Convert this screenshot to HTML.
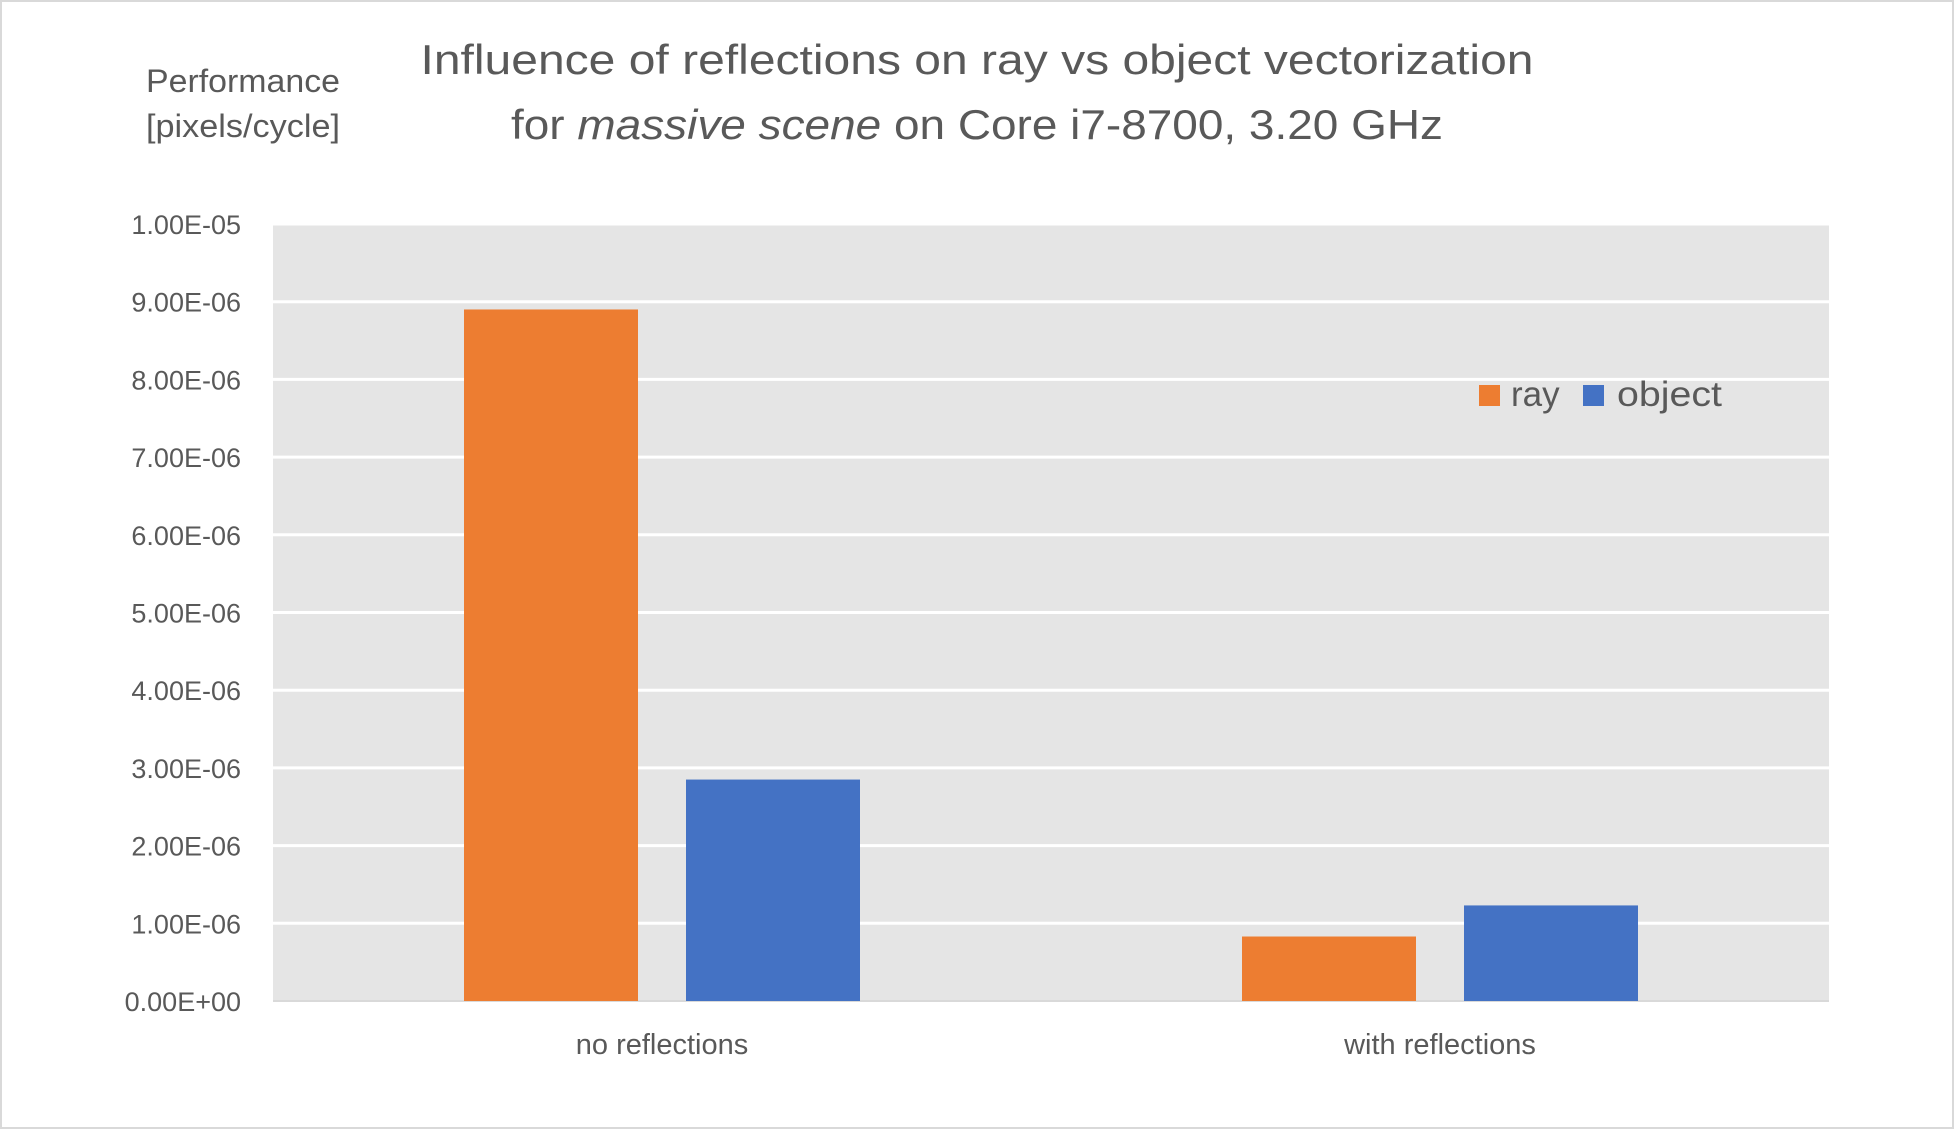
<!DOCTYPE html>
<html><head><meta charset="utf-8"><style>
html,body{margin:0;padding:0;background:#fff;}
svg{display:block;font-family:"Liberation Sans",sans-serif;}
</style></head><body>
<svg id="chart" width="1955" height="1130">
<rect x="1" y="1" width="1952" height="1127" fill="#fff" stroke="#d9d9d9" stroke-width="2"/>
<text x="977" y="74" font-size="42" fill="#595959" text-anchor="middle" textLength="1113" lengthAdjust="spacingAndGlyphs">Influence of reflections on ray vs object vectorization</text>
<text x="977" y="139" font-size="42" fill="#595959" text-anchor="middle" textLength="932" lengthAdjust="spacingAndGlyphs">for <tspan font-style="italic">massive scene</tspan> on Core i7-8700, 3.20 GHz</text>
<text x="243" y="92" font-size="32" fill="#595959" text-anchor="middle" textLength="194" lengthAdjust="spacingAndGlyphs">Performance</text>
<text x="243" y="137" font-size="32" fill="#595959" text-anchor="middle" textLength="194" lengthAdjust="spacingAndGlyphs">[pixels/cycle]</text>
<rect x="273" y="224" width="1556" height="777" fill="#e5e5e5"/>
<g id="grid"></g><g id="bars"></g><g id="labels"></g>
<rect x="1479" y="385" width="21" height="21" fill="#ed7d31"/>
<text x="1511" y="406" font-size="35" fill="#595959">ray</text>
<rect x="1583" y="385" width="21" height="21" fill="#4472c4"/>
<text x="1617" y="406" font-size="35" fill="#595959" textLength="105" lengthAdjust="spacingAndGlyphs">object</text>
</svg>
<script>
const categories = ["no reflections", "with reflections"];
const rayValues = [8.9e-6, 0.83e-6];
const objectValues = [2.85e-6, 1.23e-6];
const tickValues = [0, 1e-6, 2e-6, 3e-6, 4e-6, 5e-6, 6e-6, 7e-6, 8e-6, 9e-6, 1e-5];
const tickLabels = ["0.00E+00","1.00E-06","2.00E-06","3.00E-06","4.00E-06","5.00E-06","6.00E-06","7.00E-06","8.00E-06","9.00E-06","1.00E-05"];
const NS = "http://www.w3.org/2000/svg";
const L = 273, R = 1829, T = 224, B = 1001, yMax = 1e-5;
const y = v => B - (v / yMax) * (B - T);
const bandW = (R - L) / categories.length;
const xc = i => L + bandW * (i + 0.5);
const barW = 174, gap = 48;
function mk(tag, attrs, parent) { const e = document.createElementNS(NS, tag); for (const k in attrs) e.setAttribute(k, attrs[k]); parent.appendChild(e); return e; }
const grid = document.getElementById("grid"), bars = document.getElementById("bars"), labels = document.getElementById("labels");
tickValues.forEach((v, i) => {
  if (i > 0) {
    const ln = mk("line", {x1: L, x2: R, y1: y(v), y2: y(v), stroke: "#fff", "stroke-width": 3}, grid);
    
    
  }
  const t = mk("text", {x: 241, y: y(v) + 10, "font-size": 27, fill: "#595959", "text-anchor": "end"}, labels);
  t.textContent = tickLabels[i];
  
  
});
const base = mk("line", {x1: L, x2: R, y1: B, y2: B, stroke: "#d9d9d9", "stroke-width": 2}, grid);


categories.forEach((c, i) => {
  const r = mk("rect", {x: xc(i) - gap/2 - barW, y: y(rayValues[i]), width: barW, height: B - y(rayValues[i]), fill: "#ed7d31"}, bars);
  
  
  const o = mk("rect", {x: xc(i) + gap/2, y: y(objectValues[i]), width: barW, height: B - y(objectValues[i]), fill: "#4472c4"}, bars);
  
  
  const t = mk("text", {x: xc(i), y: 1054, "font-size": 29, fill: "#595959", "text-anchor": "middle"}, labels);
  t.textContent = c;
  
  
});
</script>
</body></html>
